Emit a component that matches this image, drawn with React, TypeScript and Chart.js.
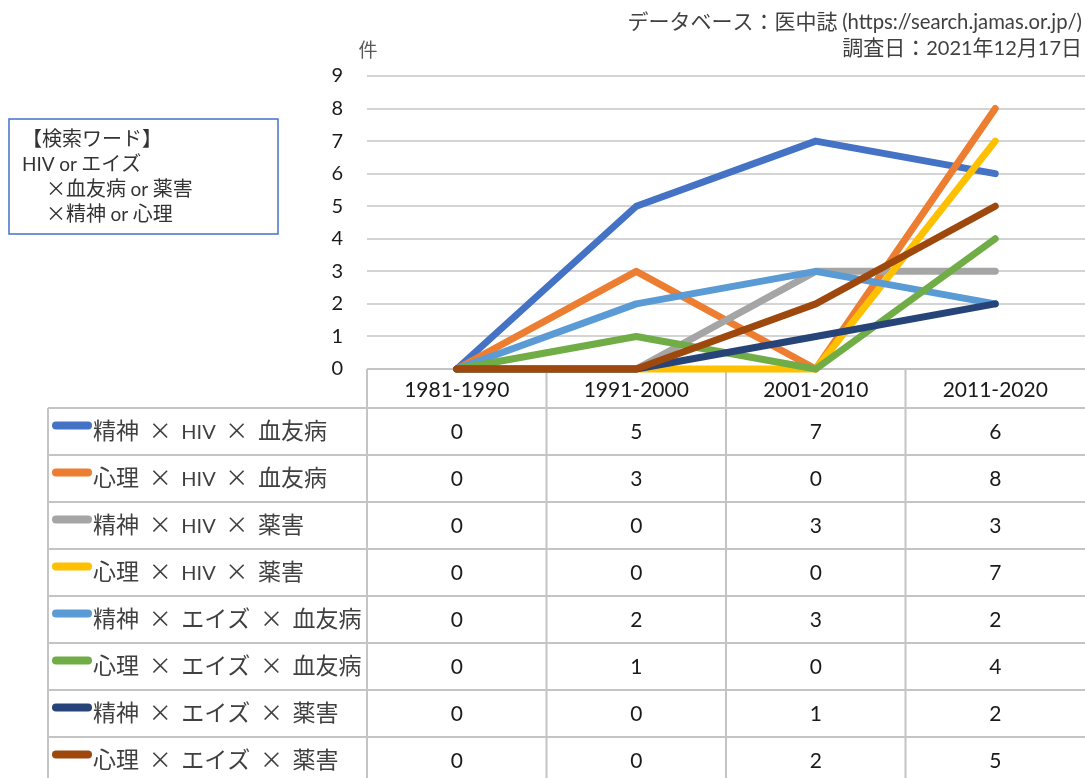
import React, { useEffect, useRef } from "react";
import { Chart, registerables } from "chart.js";

Chart.register(...registerables);

const categories = ["1981-1990", "1991-2000", "2001-2010", "2011-2020"];
const seriesNames = [
  "精神 × HIV × 血友病",
  "心理 × HIV × 血友病",
  "精神 × HIV × 薬害",
  "心理 × HIV × 薬害",
  "精神 × エイズ × 血友病",
  "心理 × エイズ × 血友病",
  "精神 × エイズ × 薬害",
  "心理 × エイズ × 薬害",
];
const s1 = [0, 5, 7, 6];
const s2 = [0, 3, 0, 8];
const s3 = [0, 0, 3, 3];
const s4 = [0, 0, 0, 7];
const s5 = [0, 2, 3, 2];
const s6 = [0, 1, 0, 4];
const s7 = [0, 0, 1, 2];
const s8 = [0, 0, 2, 5];
const seriesValues = [s1, s2, s3, s4, s5, s6, s7, s8];
const seriesColors = [
  "#4472C4",
  "#ED7D31",
  "#A5A5A5",
  "#FFC000",
  "#5B9BD5",
  "#70AD47",
  "#264478",
  "#9E480E",
];
const yMin = 0;
const yMax = 9;
const yUnit = "件";
const sourceLine = "データベース：医中誌 (https://search.jamas.or.jp/)";
const dateLine = "調査日：2021年12月17日";
const boxLines = ["【検索ワード】", "HIV or エイズ", "×血友病 or 薬害", "×精神 or 心理"];

const LATIN = "Lato";
const CJK = "'Noto Sans CJK JP'";

function isCjk(ch: string) {
  return /[\u3000-\u9fff\uff00-\uffef\u00d7 ]/.test(ch);
}

function drawMixed(
  ctx: CanvasRenderingContext2D,
  text: string,
  x: number,
  y: number,
  latinSize: number,
  cjkSize: number,
  align: "left" | "right" | "center" = "left",
  extraSpace = 0
) {
  const runs: { s: string; c: boolean }[] = [];
  for (const ch of text) {
    const c = isCjk(ch);
    if (runs.length && runs[runs.length - 1].c === c) runs[runs.length - 1].s += ch;
    else runs.push({ s: ch, c });
  }
  const fontOf = (c: boolean) => (c ? `${cjkSize}px ${CJK}` : `${latinSize}px ${LATIN}`);
  let total = 0;
  const widths = runs.map((r) => {
    ctx.font = fontOf(r.c);
    let w = ctx.measureText(r.s).width;
    w += (r.s.split(" ").length - 1) * extraSpace;
    total += w;
    return w;
  });
  let cx = align === "right" ? x - total : align === "center" ? x - total / 2 : x;
  ctx.textAlign = "left";
  ctx.textBaseline = "alphabetic";
  runs.forEach((r, i) => {
    ctx.font = fontOf(r.c);
    if (extraSpace && r.s.includes(" ")) {
      let px = cx;
      for (const ch of r.s) {
        ctx.fillText(ch, px, y);
        px += ctx.measureText(ch).width + (ch === " " ? extraSpace : 0);
      }
    } else {
      ctx.fillText(r.s, cx, y);
    }
    cx += widths[i];
  });
}

const tablePlugin = {
  id: "dataTable",
  beforeDatasetsDraw(chart: any) {
    const ctx: CanvasRenderingContext2D = chart.ctx;
    const xs = chart.scales.x;
    const ys = chart.scales.y;
    const W = chart.width;
    const H = chart.height;
    const top = ys.getPixelForValue(0);
    const headerH = 39;
    const rowH = 47;
    const tableLeft = 48;
    const headerBottom = top + headerH;
    const bounds = categories.map((_, i) => xs.getPixelForValue(i - 0.5));
    ctx.save();
    ctx.strokeStyle = "#c4c4c4";
    ctx.lineWidth = 2;
    ctx.beginPath();
    bounds.forEach((b) => {
      ctx.moveTo(b, top);
      ctx.lineTo(b, H);
    });
    ctx.moveTo(tableLeft, headerBottom);
    ctx.lineTo(tableLeft, H);
    ctx.moveTo(bounds[0], top);
    ctx.lineTo(W, top);
    for (let r = 0; r <= seriesNames.length; r++) {
      const yy = headerBottom + r * rowH;
      ctx.moveTo(tableLeft, yy);
      ctx.lineTo(W, yy);
    }
    ctx.stroke();

    // header labels
    ctx.fillStyle = "#1a1a1a";
    categories.forEach((c, i) => {
      drawMixed(ctx, c, xs.getPixelForValue(i), top + 28, 21, 21, "center");
    });

    // rows
    seriesNames.forEach((name, r) => {
      const cy = headerBottom + r * rowH + rowH / 2;
      ctx.strokeStyle = seriesColors[r];
      ctx.lineWidth = 8;
      ctx.lineCap = "round";
      ctx.beginPath();
      ctx.moveTo(56, cy - 6);
      ctx.lineTo(88, cy - 6);
      ctx.stroke();
      ctx.fillStyle = "#404040";
      drawMixed(ctx, name, 93, cy + 7, 20, 23, "left", 4.5);
      ctx.fillStyle = "#1a1a1a";
      seriesValues[r].forEach((v, i) => {
        drawMixed(ctx, String(v), xs.getPixelForValue(i), cy + 7, 21, 21, "center");
      });
    });

    // unit label
    ctx.fillStyle = "#595959";
    drawMixed(ctx, yUnit, 368, 57, 19, 19, "center");

    // source text
    ctx.fillStyle = "#404040";
    drawMixed(ctx, sourceLine, 1082, 29, 20.3, 21, "right");
    drawMixed(ctx, dateLine, 1082, 55, 20, 21, "right");

    // search word box
    ctx.strokeStyle = "#4472C4";
    ctx.lineWidth = 1.5;
    ctx.strokeRect(9, 119, 269, 115);
    ctx.fillStyle = "#333333";
    drawMixed(ctx, boxLines[0], 22, 146, 19, 20, "left");
    drawMixed(ctx, boxLines[1], 22, 171, 19, 20, "left");
    drawMixed(ctx, boxLines[2], 46, 196, 19, 20, "left");
    drawMixed(ctx, boxLines[3], 46, 221, 19, 20, "left");
    ctx.restore();
  },
};

export default function App() {
  const ref = useRef<HTMLCanvasElement | null>(null);
  useEffect(() => {
    if (!ref.current) return;
    const n = seriesNames.length;
    const chart = new Chart(ref.current, {
      type: "line",
      data: {
        labels: categories,
        datasets: seriesNames.map((name, i) => ({
          label: name,
          data: seriesValues[i],
          borderColor: seriesColors[i],
          backgroundColor: seriesColors[i],
          borderWidth: 7,
          borderCapStyle: "round",
          borderJoinStyle: "round",
          pointRadius: 0,
          pointHoverRadius: 0,
          tension: 0,
          clip: false,
          order: n - 1 - i,
        })),
      },
      options: {
        responsive: false,
        animation: false,
        devicePixelRatio: 1,
        layout: { padding: { left: 0, top: 76, right: 0, bottom: 409 } },
        plugins: { legend: { display: false }, tooltip: { enabled: false }, title: { display: false } },
        scales: {
          x: { type: "category", display: false, offset: true },
          y: {
            min: yMin,
            max: yMax,
            afterFit: (scale: any) => {
              scale.width = 367;
            },
            ticks: {
              stepSize: 1,
              padding: 24,
              color: "#1a1a1a",
              font: { family: "Lato", size: 20 },
            },
            grid: { color: "#d4d4d4", lineWidth: 2, drawTicks: false },
            border: { display: false },
          },
        },
      },
      plugins: [tablePlugin],
    } as any);
    return () => chart.destroy();
  }, []);
  return (
    <div style={{ position: "fixed", left: 0, top: 0, width: 1085, height: 778, background: "#fff" }}>
      <canvas ref={ref} width={1085} height={778} style={{ display: "block" }} />
    </div>
  );
}
